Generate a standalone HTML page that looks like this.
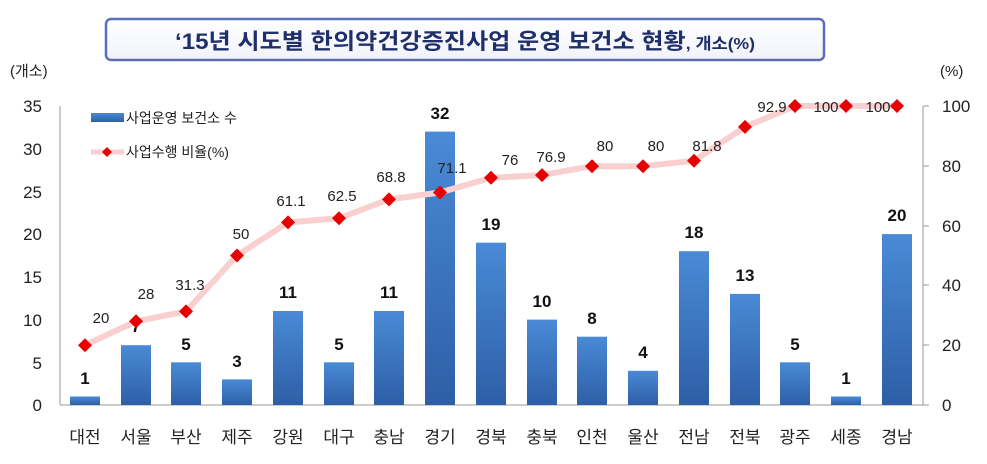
<!DOCTYPE html>
<html><head><meta charset="utf-8"><style>
body{margin:0;background:#fff;}
svg text{font-family:"Liberation Sans","Noto Sans CJK KR",sans-serif;}
</style></head><body>
<svg width="987" height="459" viewBox="0 0 987 459" xmlns="http://www.w3.org/2000/svg">
<defs>
<linearGradient id="bg" x1="0" y1="0" x2="0" y2="1"><stop offset="0" stop-color="#4a8ad6"/><stop offset="1" stop-color="#2d5fa6"/></linearGradient>
<linearGradient id="tb" x1="0" y1="0" x2="0" y2="1"><stop offset="0" stop-color="#ffffff"/><stop offset="1" stop-color="#f1f3fa"/></linearGradient>
</defs>
<rect x="106" y="19" width="718" height="41" rx="5" fill="url(#tb)" stroke="#5a6fb8" stroke-width="2.5"/>
<text x="465" y="49" text-anchor="middle" font-size="22" font-weight="bold" fill="#1f2f6a" textLength="580" lengthAdjust="spacingAndGlyphs">‘15년 시도별 한의약건강증진사업 운영 보건소 현황<tspan font-size="16">, 개소(%)</tspan></text>
<text x="10" y="76" font-size="15" fill="#222">(개소)</text>
<text x="940" y="76" font-size="15" fill="#222">(%)</text>
<g font-size="17" fill="#222" text-anchor="end">
<text x="42" y="411">0</text><text x="42" y="369">5</text><text x="42" y="326">10</text><text x="42" y="283">15</text><text x="42" y="240">20</text><text x="42" y="198">25</text><text x="42" y="155">30</text><text x="42" y="112">35</text>
</g>
<g font-size="17" fill="#222">
<text x="942" y="411">0</text><text x="942" y="351">20</text><text x="942" y="291">40</text><text x="942" y="232">60</text><text x="942" y="172">80</text><text x="942" y="112">100</text>
</g>
<line x1="60" y1="106" x2="60" y2="405" stroke="#999"/>
<line x1="60" y1="405" x2="923" y2="405" stroke="#999"/>
<line x1="923" y1="106" x2="923" y2="405" stroke="#999"/>
<g stroke="#999"><line x1="923" y1="106" x2="929" y2="106"/><line x1="923" y1="166" x2="929" y2="166"/><line x1="923" y1="226" x2="929" y2="226"/><line x1="923" y1="285" x2="929" y2="285"/><line x1="923" y1="345" x2="929" y2="345"/><line x1="923" y1="405" x2="929" y2="405"/></g>
<g fill="url(#bg)">
<rect x="70" y="396.5" width="30" height="8.5"/>
<rect x="121" y="345.2" width="30" height="59.8"/>
<rect x="171" y="362.3" width="30" height="42.7"/>
<rect x="222" y="379.4" width="30" height="25.6"/>
<rect x="273" y="311" width="30" height="94"/>
<rect x="324" y="362.3" width="30" height="42.7"/>
<rect x="374" y="311" width="30" height="94"/>
<rect x="425" y="131.6" width="30" height="273.4"/>
<rect x="476" y="242.7" width="30" height="162.3"/>
<rect x="527" y="319.6" width="30" height="85.4"/>
<rect x="577" y="336.7" width="30" height="68.3"/>
<rect x="628" y="370.8" width="30" height="34.2"/>
<rect x="679" y="251.2" width="30" height="153.8"/>
<rect x="730" y="293.9" width="30" height="111.1"/>
<rect x="780" y="362.3" width="30" height="42.7"/>
<rect x="831" y="396.5" width="30" height="8.5"/>
<rect x="882" y="234.1" width="30" height="170.9"/>
</g>
<g font-size="17" font-weight="bold" fill="#111" text-anchor="middle">
<text x="85" y="384">1</text><text x="136" y="332">7</text><text x="186" y="350">5</text><text x="237" y="367">3</text><text x="288" y="298">11</text><text x="339" y="350">5</text><text x="389" y="298">11</text><text x="440" y="119">32</text><text x="491" y="230">19</text><text x="542" y="307">10</text><text x="592" y="324">8</text><text x="643" y="358">4</text><text x="694" y="238">18</text><text x="745" y="281">13</text><text x="795" y="350">5</text><text x="846" y="384">1</text><text x="897" y="221">20</text>
</g>
<polyline fill="none" stroke="#f9cfcf" stroke-width="6" stroke-linejoin="round" points="85,345.2 136,321.3 186,311.4 237,255.5 288,222.4 339,218.2 389,199.4 440,192.5 491,177.8 542,175.1 592,166.2 643,166.2 694,160.8 745,126.9 795,106 846,106 897,106"/>
<g fill="#e60000">
<path d="M85,338.2l7,7l-7,7l-7-7z"/><path d="M136,314.3l7,7l-7,7l-7-7z"/><path d="M186,304.4l7,7l-7,7l-7-7z"/><path d="M237,248.5l7,7l-7,7l-7-7z"/><path d="M288,215.4l7,7l-7,7l-7-7z"/><path d="M339,211.2l7,7l-7,7l-7-7z"/><path d="M389,192.4l7,7l-7,7l-7-7z"/><path d="M440,185.5l7,7l-7,7l-7-7z"/><path d="M491,170.8l7,7l-7,7l-7-7z"/><path d="M542,168.1l7,7l-7,7l-7-7z"/><path d="M592,159.2l7,7l-7,7l-7-7z"/><path d="M643,159.2l7,7l-7,7l-7-7z"/><path d="M694,153.8l7,7l-7,7l-7-7z"/><path d="M745,119.9l7,7l-7,7l-7-7z"/><path d="M795,99l7,7l-7,7l-7-7z"/><path d="M846,99l7,7l-7,7l-7-7z"/><path d="M897,99l7,7l-7,7l-7-7z"/>
</g>
<g font-size="15" fill="#222" text-anchor="middle">
<text x="101" y="323">20</text><text x="146" y="299">28</text><text x="190" y="290">31.3</text><text x="241" y="239">50</text><text x="291" y="206">61.1</text><text x="342" y="201">62.5</text><text x="391" y="182">68.8</text><text x="452" y="173">71.1</text><text x="510" y="165">76</text><text x="551" y="162">76.9</text><text x="605" y="151">80</text><text x="656" y="151">80</text><text x="707" y="151">81.8</text><text x="772" y="112">92.9</text><text x="826" y="112">100</text><text x="878" y="112">100</text>
</g>
<rect x="91" y="113" width="33" height="9" fill="url(#bg)"/>
<text x="126" y="123" font-size="14" fill="#222">사업운영 보건소 수</text>
<line x1="91" y1="152" x2="124" y2="152" stroke="#f9cfcf" stroke-width="5"/>
<path d="M107,147l5,5l-5,5l-5-5z" fill="#e60000"/>
<text x="126" y="157" font-size="14" fill="#222">사업수행 비율(%)</text>
<g font-size="17" fill="#222" text-anchor="middle">
<text x="85" y="443">대전</text><text x="136" y="443">서울</text><text x="186" y="443">부산</text><text x="237" y="443">제주</text><text x="288" y="443">강원</text><text x="339" y="443">대구</text><text x="389" y="443">충남</text><text x="440" y="443">경기</text><text x="491" y="443">경북</text><text x="542" y="443">충북</text><text x="592" y="443">인천</text><text x="643" y="443">울산</text><text x="694" y="443">전남</text><text x="745" y="443">전북</text><text x="795" y="443">광주</text><text x="846" y="443">세종</text><text x="897" y="443">경남</text>
</g>
</svg>
</body></html>
